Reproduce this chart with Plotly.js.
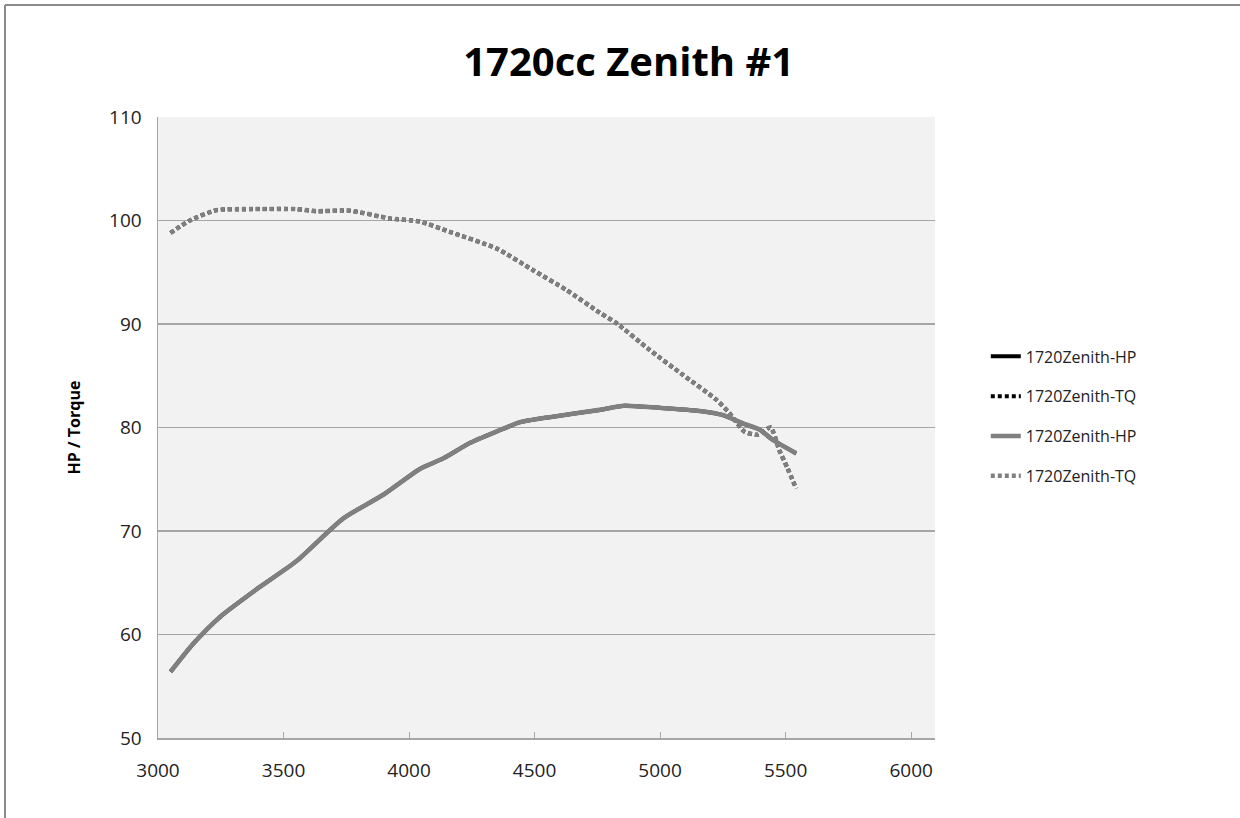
<!DOCTYPE html>
<html>
<head>
<meta charset="utf-8">
<script src="https://cdn.plot.ly/plotly-3.0.1.min.js"></script>
<style>
  html, body { margin: 0; padding: 0; background: #ffffff; overflow: hidden; }
  #chart { width: 1240px; height: 818px; }
</style>
</head>
<body>
<div id="chart"></div>
<script>
// Series names
const seriesNames = ["1720Zenith-HP", "1720Zenith-TQ", "1720Zenith-HP", "1720Zenith-TQ"];

// HP curve (RPM, HP)
const hpRpm = [3050, 3140, 3247, 3406, 3552, 3737, 3897, 4043, 4135, 4242, 4348, 4441, 4560, 4759, 4858, 4998, 5157, 5250, 5329, 5396, 5449, 5542];
const hpVal = [56.4, 59.1, 61.7, 64.6, 67.1, 71.2, 73.5, 76.0, 77.0, 78.5, 79.6, 80.5, 81.0, 81.7, 82.1, 81.9, 81.6, 81.2, 80.4, 79.8, 78.8, 77.5];

// TQ curve (RPM, Torque)
const tqRpm = [3050, 3127, 3233, 3366, 3552, 3631, 3764, 3923, 4043, 4162, 4348, 4494, 4626, 4759, 4825, 4958, 5090, 5223, 5276, 5336, 5390, 5440, 5475, 5507, 5542];
const tqVal = [98.8, 100.0, 101.0, 101.1, 101.1, 100.9, 100.95, 100.2, 99.9, 98.9, 97.3, 95.2, 93.3, 91.1, 90.1, 87.5, 85.1, 82.7, 81.4, 79.6, 79.3, 80.0, 77.8, 76.1, 74.1];

// Axis ticks
const xTicks = [3000, 3500, 4000, 4500, 5000, 5500, 6000];
const yTicks = [50, 60, 70, 80, 90, 100, 110];

const fontFam = "Open Sans, Liberation Sans, sans-serif";

// Black series lie underneath the gray ones (same run), only visible in the legend
const traces = [
  { x: hpRpm, y: hpVal, name: seriesNames[0], mode: "lines", legendgroup: "a",
    line: { color: "#000000", width: 4, shape: "spline", smoothing: 0.6 } },
  { x: tqRpm, y: tqVal, name: seriesNames[1], mode: "lines", legendgroup: "b",
    line: { color: "#000000", width: 4, dash: "4px,3px", shape: "spline", smoothing: 0.6 } },
  { x: hpRpm, y: hpVal, name: seriesNames[2], mode: "lines", legendgroup: "c",
    line: { color: "#808080", width: 4.6, shape: "spline", smoothing: 0.6 } },
  { x: tqRpm, y: tqVal, name: seriesNames[3], mode: "lines", legendgroup: "d",
    line: { color: "#808080", width: 4.6, dash: "4px,3px", shape: "spline", smoothing: 0.6 } }
];

// Outer chart frame position (pixels in the page), converted to paper coords
const plotL = 158, plotR = 935, plotT = 117, plotB = 738;
const px2x = p => (p - plotL) / (plotR - plotL);
const py2y = p => (plotB - p) / (plotB - plotT);

const layout = {
  width: 1240, height: 818,
  paper_bgcolor: "#ffffff",
  plot_bgcolor: "#f2f2f2",
  margin: { l: plotL, r: 1240 - plotR, t: plotT, b: 818 - plotB, pad: 0 },
  font: { family: fontFam, color: "#222222", size: 19 },
  title: { text: "<b>1720cc Zenith #1</b>", x: 0.507, xref: "container", xanchor: "center",
           y: 0.924, yref: "container", yanchor: "middle",
           font: { family: fontFam, size: 40, color: "#000000" } },
  xaxis: {
    range: [3000, 6095], tickvals: xTicks, ticktext: xTicks.map(String),
    showgrid: false, zeroline: false,
    showline: true, linecolor: "#a6a6a6", linewidth: 1.5,
    ticks: "inside", ticklen: 6, tickcolor: "#a6a6a6", tickwidth: 1,
    ticklabelstandoff: 15,
    tickfont: { family: fontFam, size: 19, color: "#222222" }
  },
  yaxis: {
    range: [50, 110], tickvals: yTicks, ticktext: yTicks.map(String),
    showgrid: true, gridcolor: "#a6a6a6", gridwidth: 1.5, zeroline: false,
    showline: true, linecolor: "#a6a6a6", linewidth: 1.5,
    ticks: "", ticklabelstandoff: 11,
    tickfont: { family: fontFam, size: 19, color: "#222222" },
    title: { text: "<b>HP / Torque</b>", standoff: 24,
             font: { family: fontFam, size: 16, color: "#000000" } }
  },
  shapes: [
    { type: "line", xref: "paper", yref: "paper", x0: px2x(5), x1: px2x(1300), y0: py2y(5), y1: py2y(5),
      line: { color: "#8a8a8a", width: 2 } },
    { type: "line", xref: "paper", yref: "paper", x0: px2x(5), x1: px2x(5), y0: py2y(5), y1: py2y(900),
      line: { color: "#8a8a8a", width: 2 } }
  ],
  showlegend: true,
  legend: {
    x: 0.795, xref: "container", xanchor: "left",
    y: 0.585, yref: "container", yanchor: "top",
    bgcolor: "rgba(0,0,0,0)", borderwidth: 0,
    traceorder: "grouped", tracegroupgap: 16,
    font: { family: fontFam, size: 16, color: "#222222" }
  }
};

Plotly.newPlot("chart", traces, layout, { displayModeBar: false, staticPlot: true });
</script>
</body>
</html>
